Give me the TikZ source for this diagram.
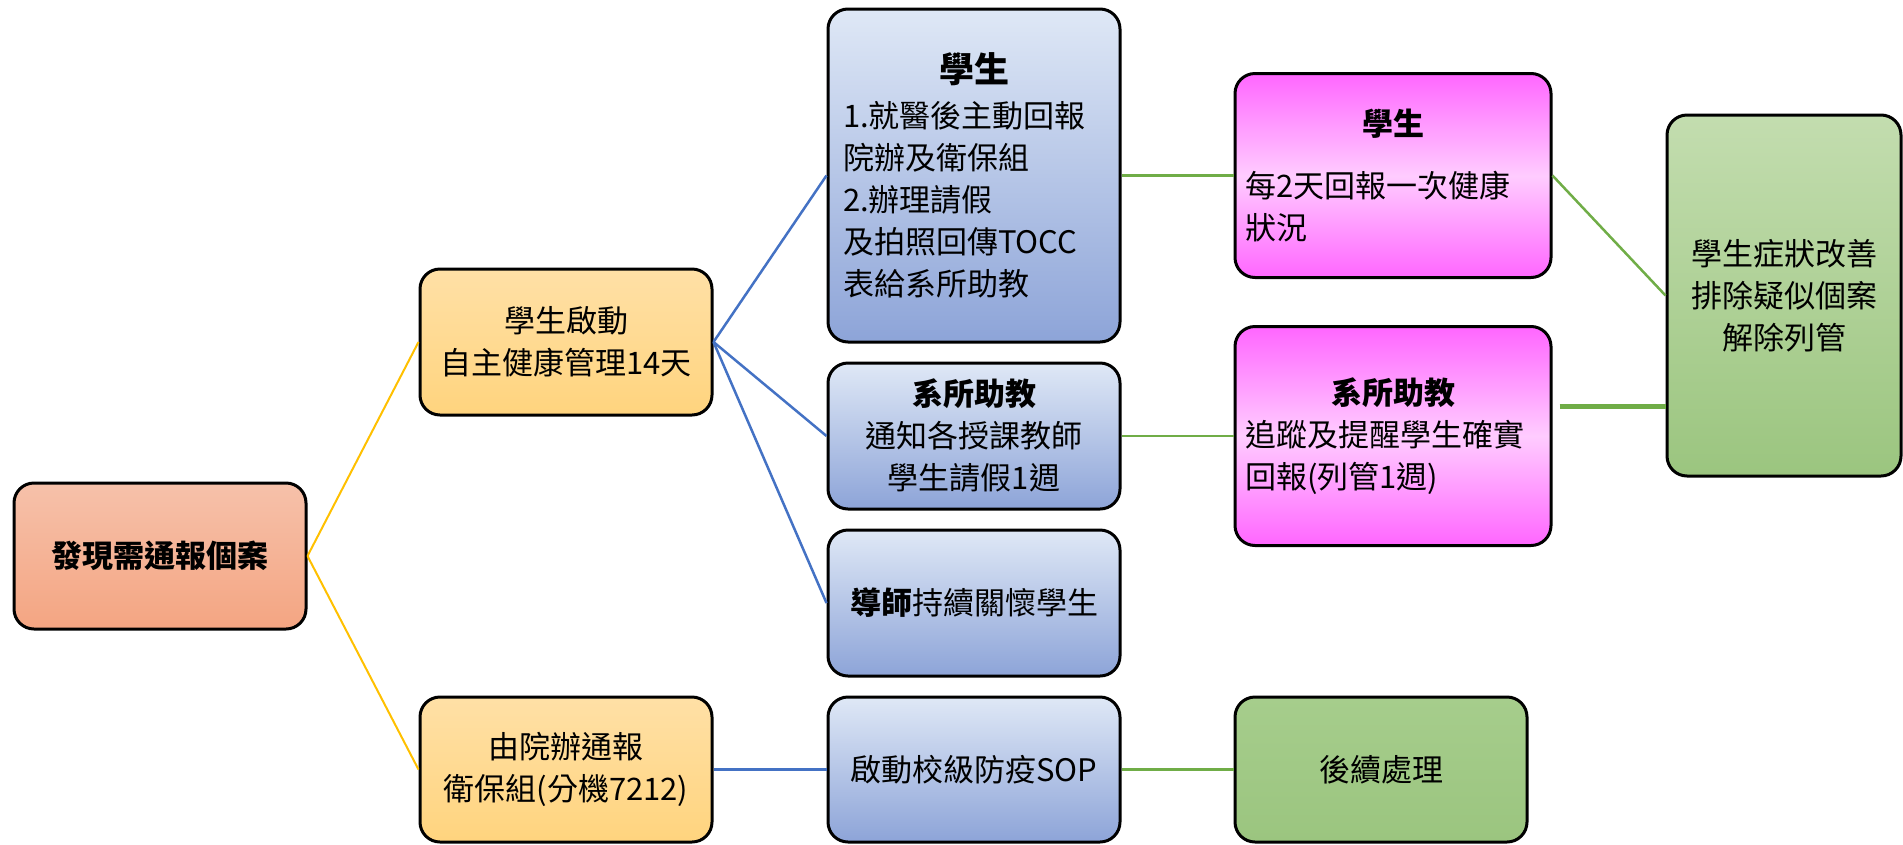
\documentclass[tikz,border=0pt]{standalone}
\usepackage{fontspec}
\setmainfont{Noto Sans CJK TC}
\definecolor{salmonT}{HTML}{F6C1AA}
\definecolor{salmonB}{HTML}{F4A582}
\definecolor{yelT}{HTML}{FFE0A6}
\definecolor{yelB}{HTML}{FFD47E}
\definecolor{bluT}{HTML}{DFE8F6}
\definecolor{bluB}{HTML}{8DA4D8}
\definecolor{pinkE}{HTML}{FF66FF}
\definecolor{pinkM}{HTML}{FFCCFF}
\definecolor{grnT}{HTML}{C3DDAF}
\definecolor{grnB}{HTML}{9BC57F}
\definecolor{grnS}{HTML}{A6CD8C}
\definecolor{yline}{HTML}{FFC000}
\definecolor{bline}{HTML}{4472C4}
\definecolor{gline}{HTML}{70AD47}
\usetikzlibrary{calc}
\begin{document}
\begin{tikzpicture}[x=1pt,y=-1pt,
  box/.style={draw=black, line width=3pt, rounded corners=20pt,
    minimum width=292pt, minimum height=146pt, inner xsep=15pt, inner ysep=0pt,
    font=\fontsize{31}{42}\selectfont, align=center, text=black},
  salmonbox/.style={box, top color=salmonT, bottom color=salmonB},
  yelbox/.style={box, top color=yelT, bottom color=yelB},
  bluebox/.style={box, top color=bluT, bottom color=bluB},
  pinkbox/.style={box, top color=pinkE, bottom color=pinkE, middle color=pinkM},
  greenbox/.style={box, top color=grnT, bottom color=grnB},
  ylink/.style={draw=yline, line width=2pt},
  blink/.style={draw=bline, line width=2.5pt},
  glink/.style={draw=gline, line width=2.5pt},
  gthick/.style={draw=gline, line width=5pt},
]
\useasboundingbox (0,0) rectangle (1903,844);

% column 1
\node[salmonbox] (root) at (160,556) {\bfseries 發現需通報個案};

% column 2
\node[yelbox] (y1) at (566,342) {學生啟動\\自主健康管理14天};
\node[yelbox, minimum height=145pt] (y2) at (566,769.5) {由院辦通報\\衛保組(分機7212)};

% column 3
\node[bluebox, minimum height=333pt, text width=262pt, align=left] (b1) at (974,175.5)
  {\hbox to\hsize{\hfil\fontsize{35}{42}\selectfont\bfseries 學生\hfil}\\[3pt]1.就醫後主動回報\\院辦及衛保組\\2.辦理請假\\及拍照回傳TOCC\\表給系所助教};
\node[bluebox] (b2) at (974,436) {\bfseries 系所助教\\通知各授課教師\\學生請假1週};
\node[bluebox] (b3) at (974,603) {{\bfseries 導師}持續關懷學生};
\node[bluebox, minimum height=145pt] (b4) at (974,769.5) {啟動校級防疫SOP};

% column 4
\node[pinkbox, minimum width=316pt, minimum height=204pt, inner xsep=10pt, text width=296pt, align=left] (p1) at (1393,175.5)
  {\hbox to\hsize{\hfil\bfseries 學生\hfil}\\[20pt]每2天回報一次健康\\狀況};
\node[pinkbox, minimum width=316pt, minimum height=219pt, inner xsep=10pt, text width=296pt, align=left] (p2) at (1393,436)
  {\hbox to\hsize{\hfil\bfseries 系所助教\hfil}\\追蹤及提醒學生確實\\回報(列管1週)};
\node[box, top color=grnS, bottom color=grnB, minimum height=145pt] (gs) at (1381,769.5) {後續處理};

% column 5
\node[greenbox, minimum width=234pt, minimum height=361pt, inner xsep=8pt] (gb) at (1784,295.5)
  {學生症狀改善\\排除疑似個案\\解除列管};

% connectors
\draw[ylink] (root.east) -- (y1.west);
\draw[ylink] (root.east) -- (y2.west);
\draw[blink] (y1.east) -- (b1.west);
\draw[blink] (y1.east) -- (b2.west);
\draw[blink] (y1.east) -- (b3.west);
\draw[blink] (y2.east) -- (b4.west);
\draw[glink] (b1.east) -- (p1.west);
\draw[glink] (b2.east) -- (p2.west);
\draw[glink] (b4.east) -- (gs.west);
\draw[glink] (p1.east) -- (gb.west);
\draw[gthick] ([xshift=7pt,yshift=30pt]p2.east) -- ([yshift=30pt]p2.east -| gb.west);
\end{tikzpicture}
\end{document}
